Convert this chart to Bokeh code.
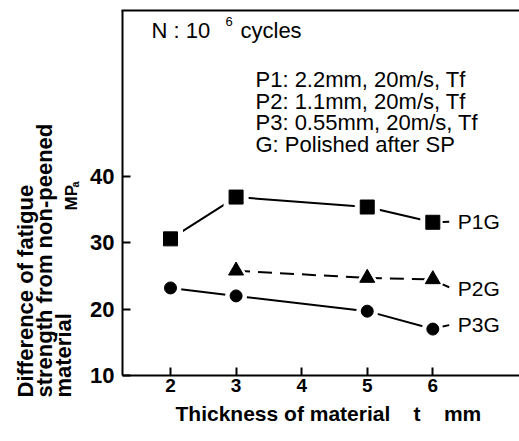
import numpy as np
from bokeh.plotting import figure
from bokeh.models import Range1d, FixedTicker, LinearAxis
from bokeh.core.properties import value
from bokeh.embed import file_html
from bokeh.resources import INLINE

# ---- data ----
thickness_p1g = [2, 3, 5, 6]
diff_p1g = [30.6, 36.9, 35.4, 33.1]
thickness_p2g = [3, 5, 6]
diff_p2g = [25.8, 24.7, 24.5]
thickness_p3g = [2, 3, 5, 6]
diff_p3g = [23.2, 22.0, 19.7, 17.0]
series_names = ["P1G", "P2G", "P3G"]
label_offsets = [0.1, -1.4, 0.7]          # label y relative to last point
x_ticks = [2, 3, 4, 5, 6]
y_ticks = [10, 20, 30, 40]
notes = ["P1: 2.2mm, 20m/s, Tf", "P2: 1.1mm, 20m/s, Tf",
         "P3: 0.55mm, 20m/s, Tf", "G: Polished after SP"]
x_title = "Thickness of material\u00a0\u00a0\u00a0\u00a0t\u00a0\u00a0\u00a0\u00a0mm"
y_title_lines = ["Difference of fatigue", "strength from non-peened", "material"]
y_unit = ["MP", "a"]

# ---- geometry (page pixels) ----
W, H = 519, 441
X_REF_PX, X_PER_UNIT = 170.0, 65.58     # x = 2 sits at page x 170
Y_REF_PX, Y_PER_UNIT = 375.0, 6.633     # y = 10 sits at page y 375
AX_LEFT_PX, AX_TOP_PX = 122.0, 10.0
FONT = value("Liberation Sans")


def px(ix):  # page pixel x -> data x
    return x_ticks[0] + (ix - X_REF_PX) / X_PER_UNIT


def py(iy):  # page pixel y -> data y
    return y_ticks[0] + (Y_REF_PX - iy) / Y_PER_UNIT


x_axis_y = py(Y_REF_PX)
y_axis_x = px(AX_LEFT_PX)

p = figure(width=W, height=H, x_range=Range1d(px(0), px(W)), y_range=Range1d(py(H), py(0)),
           output_backend="svg", toolbar_location=None,
           min_border=0, min_border_left=0, min_border_right=0,
           min_border_top=0, min_border_bottom=0)
p.grid.visible = False
p.outline_line_color = None
p.background_fill_color = "white"
p.border_fill_color = "white"

for ax in (p.xaxis[0], p.yaxis[0]):
    ax.axis_line_width = 2
    ax.axis_line_color = "black"
    ax.major_tick_line_width = 2
    ax.major_tick_line_color = "black"
    ax.major_tick_in = 8
    ax.major_tick_out = 0
    ax.minor_tick_line_color = None
    ax.major_label_text_font = "Liberation Sans"
    ax.major_label_text_font_style = "bold"
    ax.major_label_text_color = "black"

p.xaxis.ticker = FixedTicker(ticks=x_ticks)
p.xaxis.fixed_location = x_axis_y
p.xaxis.bounds = (y_axis_x, px(W))
p.xaxis.major_label_text_font_size = "19px"
p.xaxis.major_label_standoff = 3

p.yaxis.ticker = FixedTicker(ticks=y_ticks)
p.yaxis.fixed_location = y_axis_x
p.yaxis.bounds = (x_axis_y, py(AX_TOP_PX))
p.yaxis.major_label_text_font_size = "22px"
p.yaxis.major_label_standoff = 8

top = LinearAxis(ticker=FixedTicker(ticks=[]), axis_line_width=2, axis_line_color="black",
                 major_tick_in=0, major_tick_out=0, minor_tick_in=0, minor_tick_out=0,
                 major_label_text_font_size="0px", major_label_standoff=0,
                 fixed_location=py(AX_TOP_PX), bounds=(y_axis_x - 0.015, px(W)))
p.add_layout(top, "above")

# ---- lines ----
p.line(thickness_p1g, diff_p1g, line_width=2, color="black")
p.line(thickness_p2g, diff_p2g, line_width=2, color="black", line_dash="14 8")
p.line(thickness_p3g, diff_p3g, line_width=2, color="black")

# white halos to make gaps around markers
p.scatter(thickness_p1g, diff_p1g, marker="square", size=24, color="white")
p.scatter(thickness_p2g, diff_p2g, marker="triangle", size=24, color="white")
p.scatter(thickness_p3g, diff_p3g, marker="circle", size=21, color="white")

# leaders and end labels
series = [(thickness_p1g, diff_p1g), (thickness_p2g, diff_p2g), (thickness_p3g, diff_p3g)]
for (xs, ys), name, off in zip(series, series_names, label_offsets):
    xl, yl = xs[-1], ys[-1]
    ly = yl + off
    p.line([xl + 0.15, xl + 0.25], [yl + off * 0.55, yl + off * 0.85],
           line_width=2, color="black")
    p.text(x=[xl + 0.38], y=[ly], text=[name], text_font=FONT,
           text_font_size=value("21px"), text_baseline="middle", text_align="left",
           text_color="black")

# markers
p.scatter(thickness_p1g, diff_p1g, marker="square", size=14, color="black")
p.scatter(thickness_p2g, diff_p2g, marker="triangle", size=15, color="black")
p.scatter(thickness_p3g, diff_p3g, marker="circle", size=12, color="black")

# ---- notes inside the frame ----
p.text(x=[px(151)], y=[py(30)], text=["N : 10"], text_font=FONT,
       text_font_size=value("22px"), text_baseline="alphabetic", text_color="black")
p.text(x=[px(225)], y=[py(21)], text=["6"], text_font=FONT,
       text_font_size=value("13px"), text_baseline="alphabetic", text_color="black")
p.text(x=[px(240)], y=[py(30)], text=["cycles"], text_font=FONT,
       text_font_size=value("22px"), text_baseline="alphabetic", text_color="black")
note_base = [79, 100.5, 122, 143.5]
p.text(x=[px(255)] * len(notes), y=[py(b) for b in note_base], text=notes,
       text_font=FONT, text_font_size=value("22px"), text_baseline="alphabetic",
       text_color="black")

# ---- axis titles ----
p.text(x=[px(175)], y=[py(413)], text=[x_title], text_font=FONT,
       text_font_style="bold", text_font_size=value("21px"),
       text_align="left", text_baseline="alphabetic", text_color="black")
p.text(x=[px(25), px(44), px(63)], y=[py(397)] * 3, text=y_title_lines, angle=np.pi / 2,
       text_font=FONT, text_font_style="bold", text_font_size=value("22px"),
       text_align="left", text_baseline="alphabetic", text_color="black")
p.text(x=[px(71)], y=[py(210)], text=[y_unit[0]], angle=np.pi / 2,
       text_font=FONT, text_font_style="bold", text_font_size=value("17px"),
       text_align="left", text_baseline="alphabetic", text_color="black")
p.text(x=[px(74)], y=[py(187)], text=[y_unit[1]], angle=np.pi / 2,
       text_font=FONT, text_font_style="bold", text_font_size=value("11px"),
       text_align="left", text_baseline="alphabetic", text_color="black")

open("out.html", "w").write(file_html(p, INLINE))
